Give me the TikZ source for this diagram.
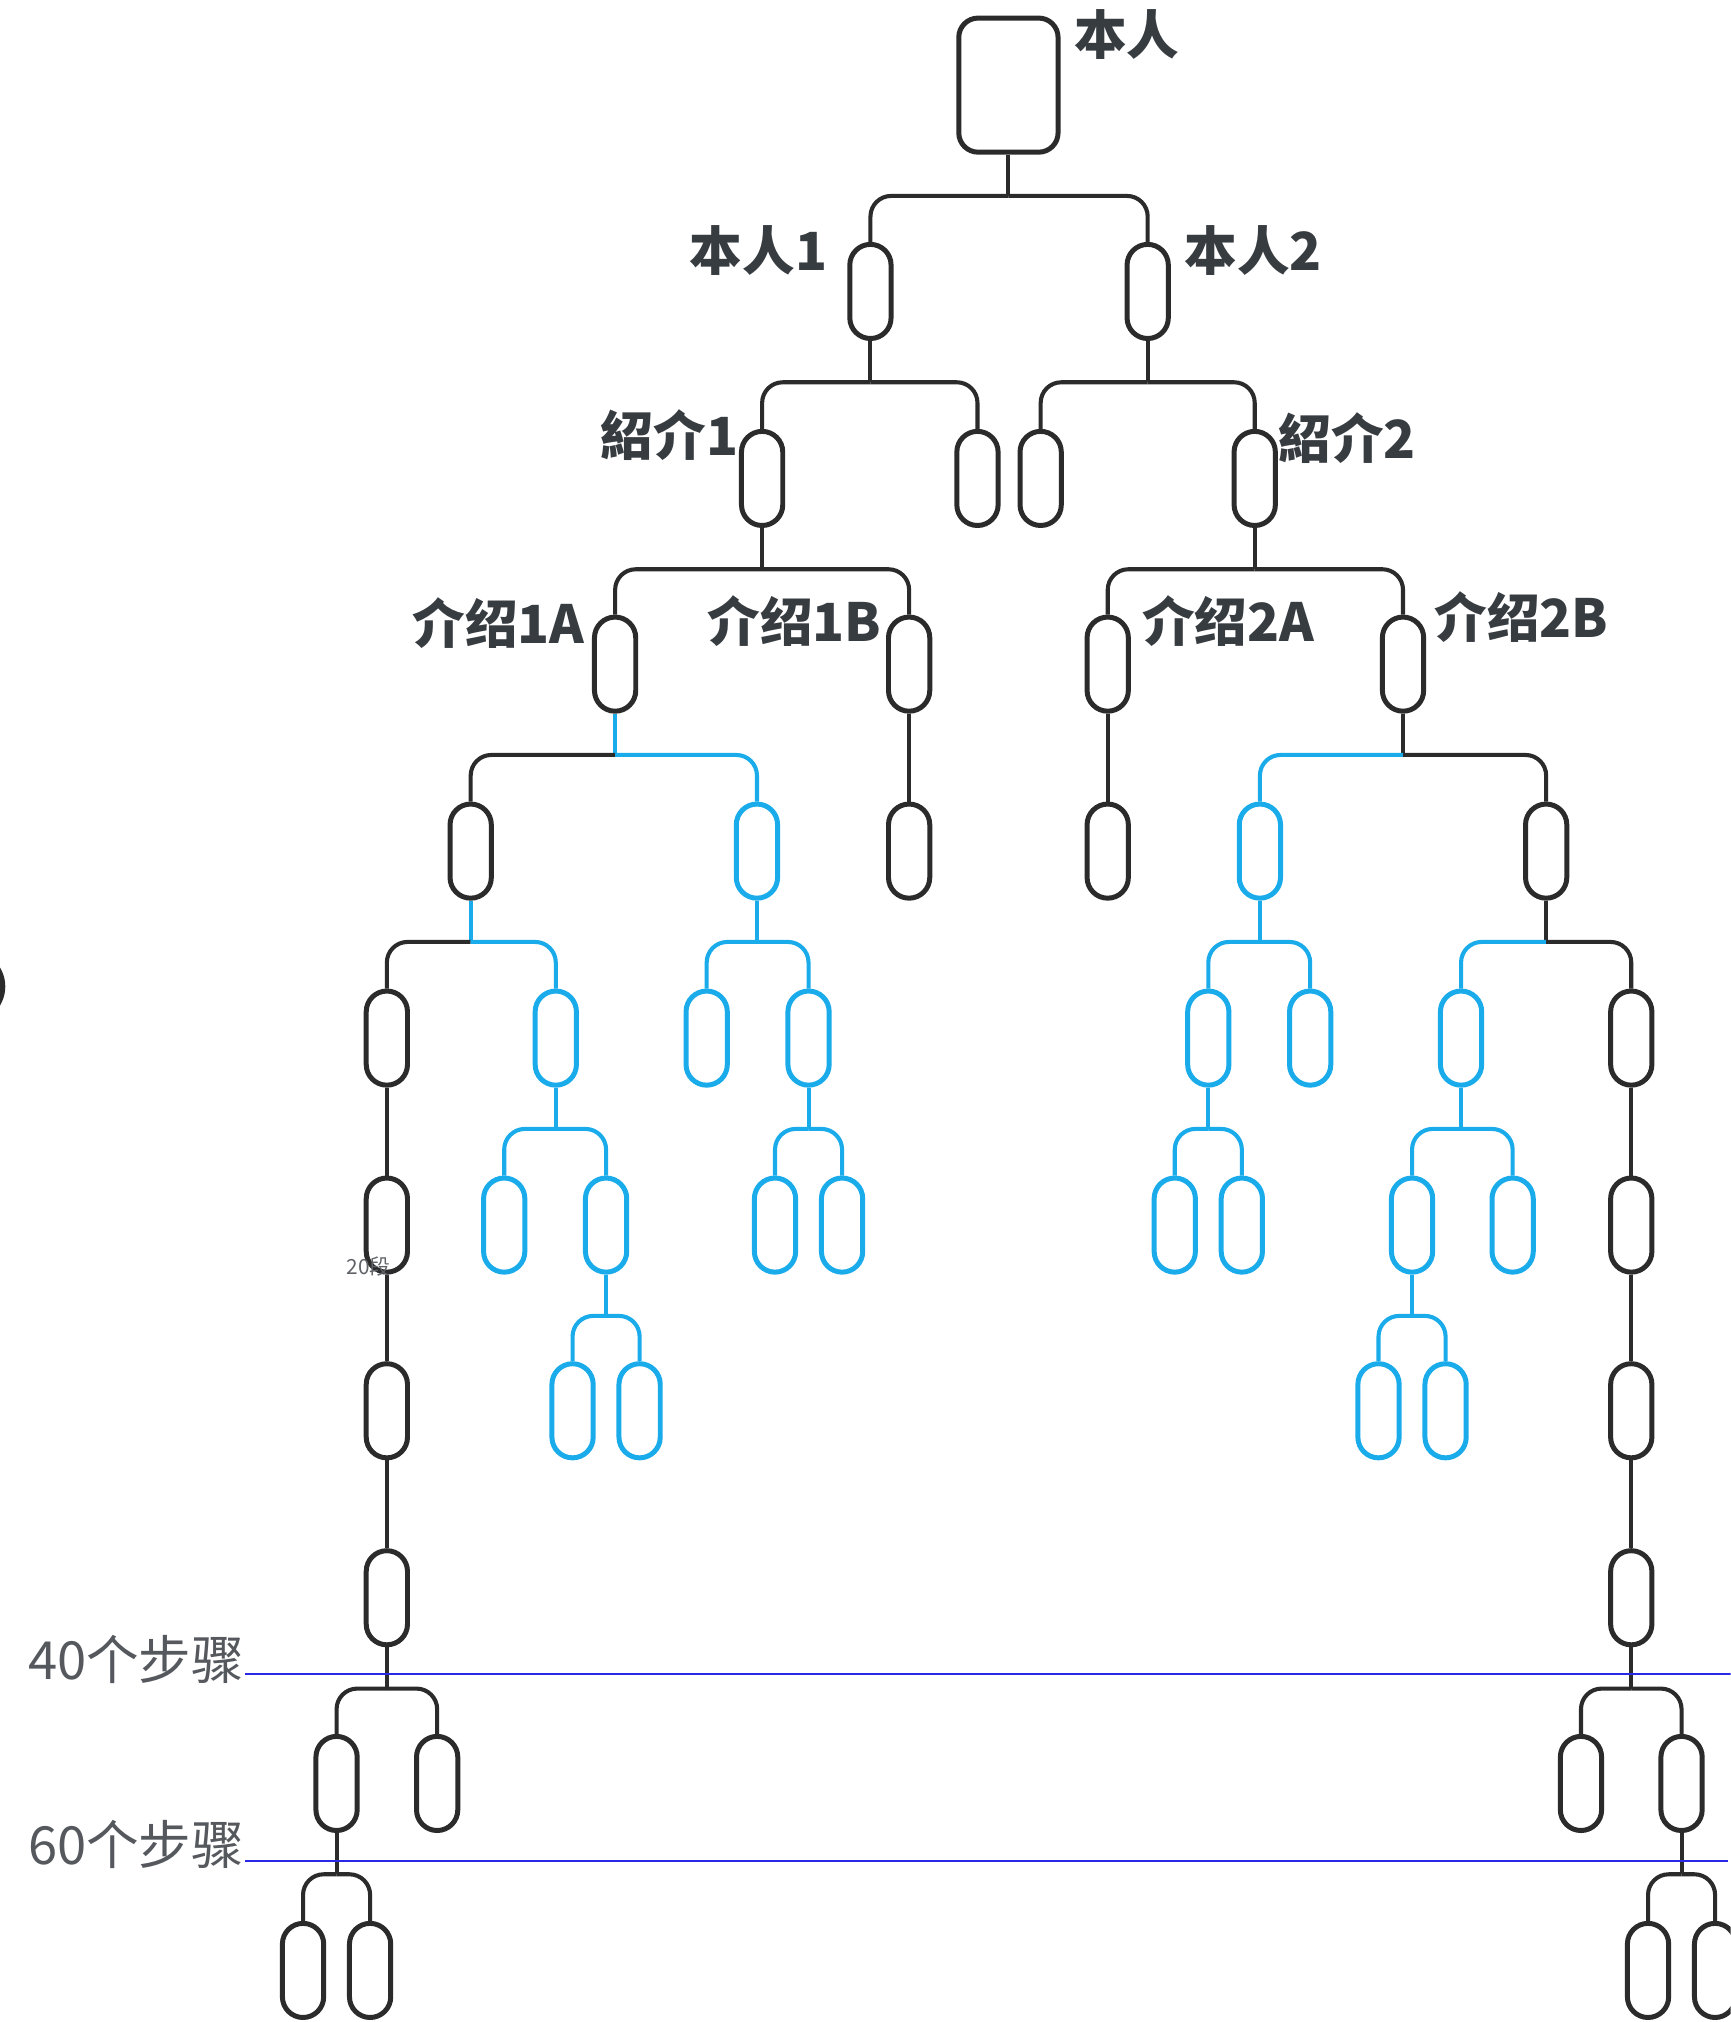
\documentclass[tikz,border=0pt]{standalone}
\usepackage{fontspec}
\setmainfont{Noto Sans CJK SC}
\usepackage{tikz}
\definecolor{treeblk}{HTML}{2B2B2B}
\definecolor{treeblu}{HTML}{1AABEB}
\definecolor{txtgray}{HTML}{373C41}
\definecolor{lineblu}{HTML}{2828E6}
% parent, left child, right child, stem / left / right colour
\newcommand{\fork}[6]{%
  \coordinate (#1-bar) at ([yshift=-3.2mm]#1.south);
  \draw[#4] (#1.south) -- (#1-bar);
  \draw[#5, rounded corners=1.6mm] (#1-bar) -| (#2.north);
  \draw[#6, rounded corners=1.6mm] (#1-bar) -| (#3.north);
}

\begin{document}
\begin{tikzpicture}[x=0.1mm, y=-0.1mm,
  pill/.style={draw=treeblk, line width=1.1pt, minimum width=3.2mm,
               minimum height=7.3mm, rounded corners=1.6mm, inner sep=0pt},
  bpill/.style={pill, draw=treeblu},
  rootbox/.style={pill, minimum width=7.7mm, minimum height=10.4mm,
                  rounded corners=1.5mm},
  tag/.style={font=\fontsize{11.6}{13}\selectfont\bfseries, text=txtgray,
              inner sep=0pt},
  steptag/.style={font=\fontsize{11.6}{13}\selectfont, text=txtgray!85,
                  inner sep=0pt},
  tinytag/.style={font=\fontsize{4.6}{5}\selectfont, text=txtgray!80,
                  inner sep=0pt},
  blk/.style={draw=treeblk, line width=0.9pt},
  blu/.style={draw=treeblu, line width=0.9pt},
  stepline/.style={draw=lineblu, line width=0.45pt},
]
\useasboundingbox (0,0) rectangle (1342,1568);
\clip (0,0) rectangle (1342,1568);

% Root and first levels
\node[rootbox] (root) at (782,66) {};
\node[pill] (n1) at (675,226) {};
\node[pill] (n2) at (890,226) {};
\node[pill] (a1) at (591,371) {};
\node[pill] (a2) at (758,371) {};
\node[pill] (a3) at (807,371) {};
\node[pill] (a4) at (973,371) {};
\node[pill] (b1) at (477,515) {};
\node[pill] (b2) at (705,515) {};
\node[pill] (b3) at (859,515) {};
\node[pill] (b4) at (1088,515) {};

% Level 4
\node[pill]  (c1) at (365,660) {};
\node[bpill] (c2) at (587,660) {};
\node[pill]  (c3) at (705,660) {};
\node[pill]  (c4) at (859,660) {};
\node[bpill] (c5) at (977,660) {};
\node[pill]  (c6) at (1199,660) {};

% Level 5
\node[pill]  (d1) at (300,805) {};
\node[bpill] (d2) at (431,805) {};
\node[bpill] (d3) at (548,805) {};
\node[bpill] (d4) at (627,805) {};
\node[bpill] (d5) at (937,805) {};
\node[bpill] (d6) at (1016,805) {};
\node[bpill] (d7) at (1133,805) {};
\node[pill]  (d8) at (1265,805) {};

% Level 6
\node[pill]  (e1) at (300,950) {};
\node[bpill] (e2) at (391,950) {};
\node[bpill] (e3) at (470,950) {};
\node[bpill] (e4) at (601,950) {};
\node[bpill] (e5) at (653,950) {};
\node[bpill] (e6) at (911,950) {};
\node[bpill] (e7) at (963,950) {};
\node[bpill] (e8) at (1095,950) {};
\node[bpill] (e9) at (1173,950) {};
\node[pill]  (e10) at (1265,950) {};

% Level 7 and below
\node[pill]  (f1) at (300,1094) {};
\node[bpill] (f2) at (444,1094) {};
\node[bpill] (f3) at (496,1094) {};
\node[bpill] (f4) at (1069,1094) {};
\node[bpill] (f5) at (1121,1094) {};
\node[pill]  (f6) at (1265,1094) {};
\node[pill] (g1) at (300,1239) {};
\node[pill] (g2) at (1265,1239) {};
\node[pill] (h1) at (261,1383) {};
\node[pill] (h2) at (339,1383) {};
\node[pill] (h3) at (1226,1383) {};
\node[pill] (h4) at (1304,1383) {};
\node[pill] (i1) at (235,1528) {};
\node[pill] (i2) at (287,1528) {};
\node[pill] (i3) at (1278,1528) {};
\node[pill] (i4) at (1330,1528) {};

% Connectors
\fork{root}{n1}{n2}{blk}{blk}{blk}
\fork{n1}{a1}{a2}{blk}{blk}{blk}
\fork{n2}{a3}{a4}{blk}{blk}{blk}
\fork{a1}{b1}{b2}{blk}{blk}{blk}
\fork{a4}{b3}{b4}{blk}{blk}{blk}
\fork{b1}{c1}{c2}{blu}{blk}{blu}
\draw[blk] (b2) -- (c3);
\draw[blk] (b3) -- (c4);
\fork{b4}{c5}{c6}{blk}{blu}{blk}
\fork{c1}{d1}{d2}{blu}{blk}{blu}
\fork{c2}{d3}{d4}{blu}{blu}{blu}
\fork{c5}{d5}{d6}{blu}{blu}{blu}
\fork{c6}{d7}{d8}{blk}{blu}{blk}
\draw[blk] (d1) -- (e1);
\fork{d2}{e2}{e3}{blu}{blu}{blu}
\fork{d4}{e4}{e5}{blu}{blu}{blu}
\fork{d5}{e6}{e7}{blu}{blu}{blu}
\fork{d7}{e8}{e9}{blu}{blu}{blu}
\draw[blk] (d8) -- (e10);
\draw[blk] (e1) -- (f1);
\fork{e3}{f2}{f3}{blu}{blu}{blu}
\fork{e8}{f4}{f5}{blu}{blu}{blu}
\draw[blk] (e10) -- (f6);
\draw[blk] (f1) -- (g1);
\draw[blk] (f6) -- (g2);
\fork{g1}{h1}{h2}{blk}{blk}{blk}
\fork{g2}{h3}{h4}{blk}{blk}{blk}
\fork{h1}{i1}{i2}{blk}{blk}{blk}
\fork{h4}{i3}{i4}{blk}{blk}{blk}

% Node labels
\node[tag, anchor=west] (l-root) at ([xshift=1mm,yshift=-1.5mm]root.north east) {本人};
\node[tag, anchor=east] (l-n1) at ([xshift=-1.5mm,yshift=-0.7mm]n1.north west) {本人1};
\node[tag, anchor=west] (l-n2) at ([xshift=1mm,yshift=-0.7mm]n2.north east) {本人2};
\node[tag, anchor=east] (l-a1) at ([yshift=-0.5mm]a1.north west) {紹介1};
\node[tag, anchor=west] (l-a4) at ([yshift=-0.7mm]a4.north east) {紹介2};
\node[tag, anchor=east] (l-b1) at ([xshift=-0.5mm,yshift=-0.7mm]b1.north west) {介绍1A};
\node[tag, anchor=east] (l-b2) at ([xshift=-0.3mm,yshift=-0.5mm]b2.north west) {介绍1B};
\node[tag, anchor=west] (l-b3) at ([xshift=0.8mm,yshift=-0.5mm]b3.north east) {介绍2A};
\node[tag, anchor=west] (l-b4) at ([xshift=0.6mm,yshift=-0.2mm]b4.north east) {介绍2B};
\node[tinytag, anchor=west] (l-20) at (268,982) {20段};

% Step marks
\node[steptag, anchor=east] (s40) at (190,1287) {40个步骤};
\node[steptag, anchor=east] (s60) at (190,1430) {60个步骤};
\coordinate (s40-end) at (1342,1298);
\coordinate (s60-end) at (1340,1443);
\draw[stepline] (s40.east |- s40-end) -- (s40-end);
\draw[stepline] (s60.east |- s60-end) -- (s60-end);

% Cut-off shape at the left edge
\draw[treeblk, line width=1.2pt] (-28,765) ellipse [x radius=30, y radius=28];

\end{tikzpicture}
\end{document}
